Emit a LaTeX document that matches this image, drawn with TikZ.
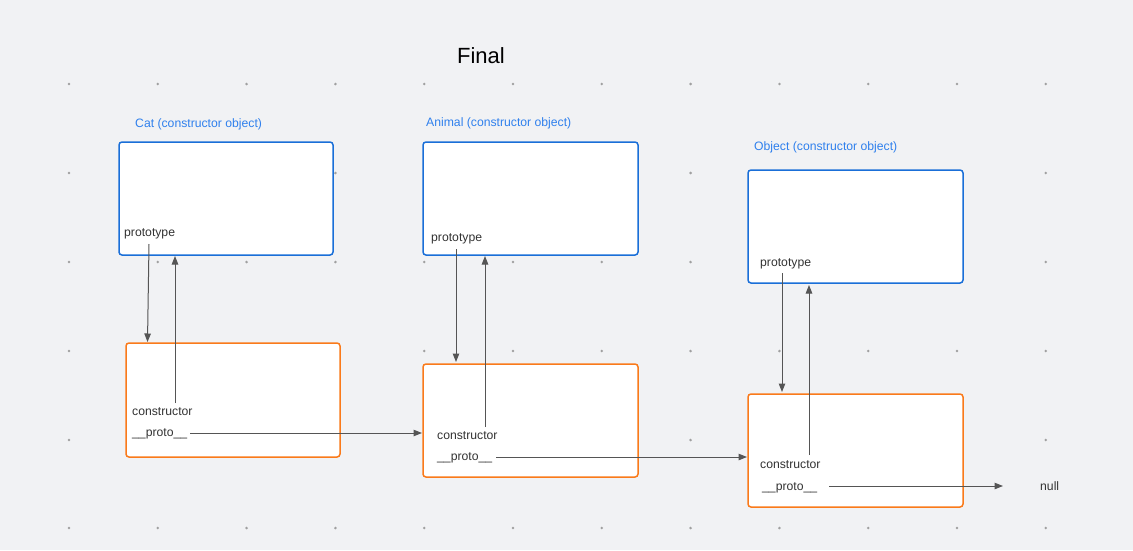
\documentclass[tikz,border=0pt]{standalone}
\usepackage{fontspec}
\setmainfont{Liberation Sans}
\usetikzlibrary{arrows.meta}
\definecolor{bg}{HTML}{F1F2F4}
\definecolor{dotc}{HTML}{A0A0A0}
\definecolor{blueb}{HTML}{1A6FD8}
\definecolor{bluet}{HTML}{2F80ED}
\definecolor{orangeb}{HTML}{FA7A1A}
\definecolor{txt}{HTML}{333333}
\definecolor{arr}{HTML}{555555}
\tikzset{
  ctorbox/.style={draw=blueb, fill=white, line width=1.5pt, rounded corners=3pt},
  protobox/.style={draw=orangeb, fill=white, line width=1.5pt, rounded corners=3pt},
  lbl/.style={anchor=west, inner sep=0pt, yshift=-1.5pt, text height=9pt, text depth=2.5pt, text=txt, font=\fontsize{12.2}{14}\selectfont},
  blbl/.style={anchor=west, inner sep=0pt, yshift=-1pt, text height=9pt, text depth=2.5pt, text=bluet, font=\fontsize{12.2}{14}\selectfont},
  link/.style={draw=arr, line width=1pt, -{Triangle[length=8.5pt,width=6.5pt]}}
}
\begin{document}
\begin{tikzpicture}[x=1pt,y=-1pt]
\fill[bg] (0,0) rectangle (1133,550);
\useasboundingbox (0,0) rectangle (1133,550);
% grid dots
\foreach \i in {0,...,11}{
  \foreach \yy in {84,173,262,351,440,528}{
    \fill[dotc] ({69+88.8*\i},\yy) circle (1.4);
  }
}
% title
\node[inner sep=0pt, text height=16pt, text depth=0pt, text=black, font=\fontsize{22}{26}\selectfont] (title) at (481,55) {Final};
% Cat
\node[blbl] (catlbl) at (135,123) {Cat (constructor object)};
\draw[ctorbox] (119,142) rectangle (333,255);
\node[lbl] (catproto) at (124,232) {prototype};
\draw[protobox] (126,343) rectangle (340,457);
\node[lbl] (catctor) at (132,410.5) {constructor};
\node[lbl] (catpp) at (132,432) {\_\_proto\_\_};
% Animal
\node[blbl] (anlbl) at (426,122) {Animal (constructor object)};
\draw[ctorbox] (423,142) rectangle (638,255);
\node[lbl] (anproto) at (431,237) {prototype};
\draw[protobox] (423,364) rectangle (638,477);
\node[lbl] (anctor) at (437,435) {constructor};
\node[lbl] (anpp) at (437,456) {\_\_proto\_\_};
% Object
\node[blbl] (oblbl) at (754,146) {Object (constructor object)};
\draw[ctorbox] (748,170) rectangle (963,283);
\node[lbl] (obproto) at (760,261.5) {prototype};
\draw[protobox] (748,394) rectangle (963,507);
\node[lbl] (obctor) at (760,463.5) {constructor};
\node[lbl] (obpp) at (762,486) {\_\_proto\_\_};
\node[lbl] (null) at (1040,486) {null};
% coordinates
\coordinate (c1a) at (149,244); \coordinate (c1b) at (147.5,342);
\coordinate (c2a) at (175,403); \coordinate (c2b) at (175,256);
\coordinate (c3a) at (190,433); \coordinate (c3b) at (422,433);
\coordinate (a1a) at (456,249); \coordinate (a1b) at (456,362);
\coordinate (a2a) at (485,427); \coordinate (a2b) at (485,256);
\coordinate (a3a) at (496,457); \coordinate (a3b) at (747,457);
\coordinate (o1a) at (782,273); \coordinate (o1b) at (782,392);
\coordinate (o2a) at (809,455); \coordinate (o2b) at (809,285);
\coordinate (o3a) at (829,486); \coordinate (o3b) at (1003,486);
% arrows
\draw[link] (c1a) -- (c1b);
\draw[link] (c2a) -- (c2b);
\draw[link] (c3a) -- (c3b);
\draw[link] (a1a) -- (a1b);
\draw[link] (a2a) -- (a2b);
\draw[link] (a3a) -- (a3b);
\draw[link] (o1a) -- (o1b);
\draw[link] (o2a) -- (o2b);
\draw[link] (o3a) -- (o3b);
\end{tikzpicture}
\end{document}
